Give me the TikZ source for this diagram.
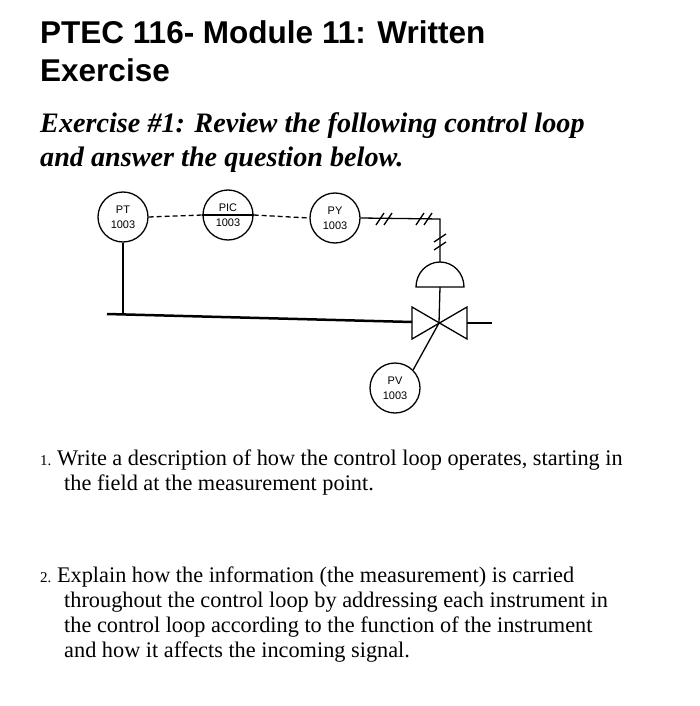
\documentclass[tikz,border=0pt]{standalone}
\usepackage{fontspec}
\setmainfont{Liberation Serif}
\setsansfont{Liberation Sans}
\begin{document}
\begin{tikzpicture}[x=1pt,y=-1pt,
  inst/.style={draw,circle,minimum size=50pt,inner sep=0pt,line width=1.3pt,font=\sffamily\fontsize{11}{12}\selectfont,align=center},
  sig/.style={line width=1.3pt,dash pattern=on 5pt off 3pt},
  ln/.style={line width=1.3pt},
  ttl/.style={anchor=base west,inner sep=0pt,font=\sffamily\bfseries\fontsize{31.5}{34}\selectfont},
  sub/.style={anchor=base west,inner sep=0pt,font=\bfseries\itshape\fontsize{28.2}{32}\selectfont},
  q/.style={anchor=base west,inner sep=0pt,font=\fontsize{22.3}{25}\selectfont}]
\useasboundingbox (0,0) rectangle (700,706);
\node[ttl] (t1) at (40,44) {PTEC 116- Module 11: Written};
\node[ttl] (t2) at (40,82) {Exercise};
\node[sub] (s1) at (40,132) {Exercise \#1: Review the following control loop};
\node[sub] (s2) at (40,166) {and answer the question below.};
\node[inst] (pt) at (123,217) {PT\\[3pt]1003};
\node[inst] (pic) at (228,215) {PIC\\[3pt]1003};
\draw[ln] (pic.west) -- (pic.east);
\node[inst] (py) at (335,218) {PY\\[3pt]1003};
\node[inst] (pv) at (395,388) {PV\\[3pt]1003};
\coordinate (vc) at (439,323);
\coordinate (pl) at (107,314);
\coordinate (pr) at (492,323);
\coordinate (tap) at (123,314);
\draw[line width=2.5pt] (pl) -- (412,322);
\draw[line width=2.5pt] (467,323) -- (pr);
\draw[ln] (412,307) -- (412,339) -- (467,307) -- (467,339) -- cycle;
\draw[ln] (pt.south) -- (tap);
\draw[sig] (pt.east) -- (pic.west);
\draw[sig] (pic.east) -- (py.west);
\coordinate (corner) at (440,219);
\coordinate (dtop) at (440,262);
\draw[ln] (416,287) arc[start angle=180,end angle=0,x radius=24pt,y radius=25pt] -- cycle;
\draw[ln] (py.east) -- (corner) -- (dtop);
\draw[ln] (440,287) -- (vc);
\draw[ln] (vc) -- (pv.north east);
\foreach \x in {380,388,420,428}
  \draw[ln] (\x-4,225) -- (\x+4,213);
\foreach \y in {238,246}
  \draw[ln] (434,\y+4) -- (446,\y-4);
\node[q] (q1) at (40,465) {{\fontsize{15}{16}\selectfont 1.}\ Write a description of how the control loop operates, starting in};
\node[q] (q1b) at (64,490) {the field at the measurement point.};
\node[q] (q2) at (40,582) {{\fontsize{15}{16}\selectfont 2.}\ Explain how the information (the measurement) is carried};
\node[q] (q2b) at (64,607) {throughout the control loop by addressing each instrument in};
\node[q] (q2c) at (64,632) {the control loop according to the function of the instrument};
\node[q] (q2d) at (64,657) {and how it affects the incoming signal.};
\end{tikzpicture}
\end{document}
